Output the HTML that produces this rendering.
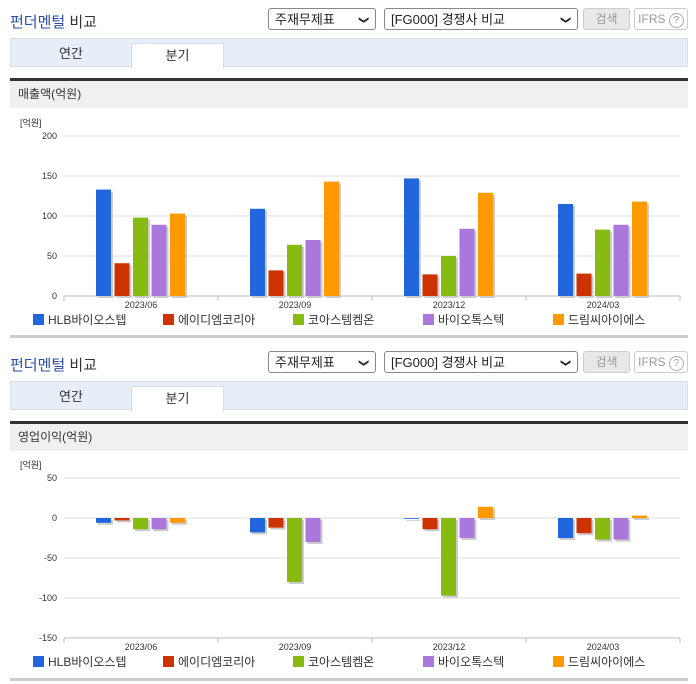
<!DOCTYPE html>
<html><head><meta charset="utf-8">
<style>
body{margin:0;width:696px;height:684px;background:#fff;font-family:"Liberation Sans","Noto Sans CJK KR",sans-serif;position:relative;overflow:hidden}
.abs{position:absolute}
.title{font-size:15px;color:#333;left:10px}
.title b{color:#2b4ea8;font-weight:normal}
.sel{border:1px solid #888;border-radius:3px;height:22px;font-size:13px;color:#222;line-height:22px;padding-left:6px;box-sizing:border-box;background:#fff}
.sel span{position:absolute;right:8px;top:0;font-size:10px}
.btn{border:1px solid #ccc;border-radius:3px;height:22px;box-sizing:border-box;font-size:12px;color:#999;text-align:center;line-height:20px}
.tabs{left:10px;width:678px;height:29px;background:#e8eef7;border:1px solid #d8dfe9;box-sizing:border-box}
.tab{font-size:13px;color:#333;text-align:center;line-height:30px}
.hdr{left:10px;width:678px;height:30px;background:#f0f0f0;border-top:3px solid #333;box-sizing:border-box;font-size:12px;color:#333;line-height:27px;padding-left:8px}
.bot{left:10px;width:678px;height:3px;background:#ccc}
</style></head><body>
<div id="root"></div>
<svg id="charts" class="abs" style="left:0;top:0" width="696" height="684"></svg>
<script>
const categories=["2023/06","2023/09","2023/12","2024/03"];
const seriesNames=["HLB바이오스텝","에이디엠코리아","코아스템켐온","바이오톡스텍","드림씨아이에스"];
const seriesColors=["#2266dd","#cc3300","#88bb11","#aa77dd","#ff9900"];
const revHLB=[133,109,147,115];
const revADM=[41,32,27,28];
const revCOA=[98,64,50,83];
const revBIO=[89,70,84,89];
const revDRM=[103,143,129,118];
const opHLB=[-6,-18,-1,-25];
const opADM=[-3,-12,-14,-19];
const opCOA=[-14,-80,-97,-27];
const opBIO=[-14,-30,-25,-27];
const opDRM=[-6,0,14,3];
const revTicks=[0,50,100,150,200];
const opTicks=[-150,-100,-50,0,50];

const root=document.getElementById('root');
function div(cls,style,html,name,inter){const d=document.createElement('div');d.className='abs '+cls;d.style.cssText=style;d.innerHTML=html;


root.appendChild(d);return d;}
function section(o,label,p){
 div('title','top:'+(11+o)+'px','<b>펀더멘털</b> 비교',p+'section-title',false);
 div('sel','left:268px;top:'+(8+o)+'px;width:108px','주재무제표<span>&#10095;</span>',p+'statement-select',true).querySelector('span').style.transform='rotate(90deg)';
 div('sel','left:384px;top:'+(8+o)+'px;width:194px','[FG000] 경쟁사 비교<span>&#10095;</span>',p+'peer-select',true).querySelector('span').style.transform='rotate(90deg)';
 div('btn','left:583px;top:'+(8+o)+'px;width:47px;background:#e8e8e8','검색',p+'search-button',true);
 div('btn','left:634px;top:'+(8+o)+'px;width:54px;background:#fff','IFRS <span style="display:inline-block;width:13px;height:13px;border:1px solid #aaa;border-radius:50%;line-height:13px;font-size:10px">?</span>',p+'ifrs-button',true);
 div('tabs','top:'+(38+o)+'px','',p+'tab-bar',false);
 div('tab','left:11px;top:'+(39+o)+'px;width:120px','연간',p+'annual-tab',true);
 div('tab','left:131px;top:'+(43+o)+'px;width:91px;height:25px;background:#fff;border:1px solid #d8dfe9;border-bottom:none;line-height:24px','분기',p+'quarter-tab',true);
 div('hdr','top:'+(78+o)+'px',label,p+'chart-header',false);
 div('bot','top:'+(335+o)+'px','',p+'bottom-rule',false);
}
section(0,'매출액(억원)','revenue-');
section(343,'영업이익(억원)','op-');

const svg=document.getElementById('charts');const NS='http://www.w3.org/2000/svg';
function el(t,a,name){const e=document.createElementNS(NS,t);for(const k in a)e.setAttribute(k,a[k]);


svg.appendChild(e);return e;}
function chart(series,ticks,y0px,vmax,p){
 const L=64,R=680,ppu=0.8,step=154;
 const y=v=>y0px+(vmax-v)*ppu;
 const catX=i=>L+step*i+step/2;
 const t=el('text',{x:20,y:y0px-10,'font-size':9,fill:'#333'},p+'unit-label');t.textContent='[억원]';
 ticks.forEach(v=>{el('line',{x1:L,x2:R,y1:y(v),y2:y(v),stroke:'#ddd'},p+'gridline');
  const tx=el('text',{x:57,y:y(v)+3,'font-size':9,fill:'#333','text-anchor':'end'},p+'y-tick');tx.textContent=v;});
 const ymin=y(ticks[0]);
 el('line',{x1:L,x2:R,y1:ymin,y2:ymin,stroke:'#bbb'},p+'x-axis');
 for(let i=0;i<=categories.length;i++)el('line',{x1:L+step*i,x2:L+step*i,y1:ymin,y2:ymin+5,stroke:'#bbb'},p+'x-tick-mark');
 categories.forEach((c,i)=>{const tx=el('text',{x:catX(i),y:ymin+12,'font-size':9,fill:'#333','text-anchor':'middle'},p+'x-tick');tx.textContent=c;
  series.forEach((s,j)=>{const v=s[i];if(v===0)return;const bx=catX(i)-45+j*18.5;const top=Math.min(y(v),y(0)),h=Math.abs(y(v)-y(0));
   el('rect',{x:bx+2,y:top+2,width:15,height:h,fill:'#ccc'},p+'bar-shadow');
   el('rect',{x:bx,y:top,width:15,height:h,fill:seriesColors[j]},p+'bar-'+c.replace('/','-')+'-'+j);});});
 seriesNames.forEach((n,j)=>{const lx=33+j*130;
  el('rect',{x:lx,y:ymin+18,width:11,height:11,fill:seriesColors[j]},p+'legend-swatch');
  const tx=el('text',{x:lx+15,y:ymin+28,'font-size':12,fill:'#333'},p+'legend-entry');tx.textContent=n;});
}
chart([revHLB,revADM,revCOA,revBIO,revDRM],revTicks,136,200,'revenue-');
chart([opHLB,opADM,opCOA,opBIO,opDRM],opTicks,478,50,'op-');
</script>
</body></html>
